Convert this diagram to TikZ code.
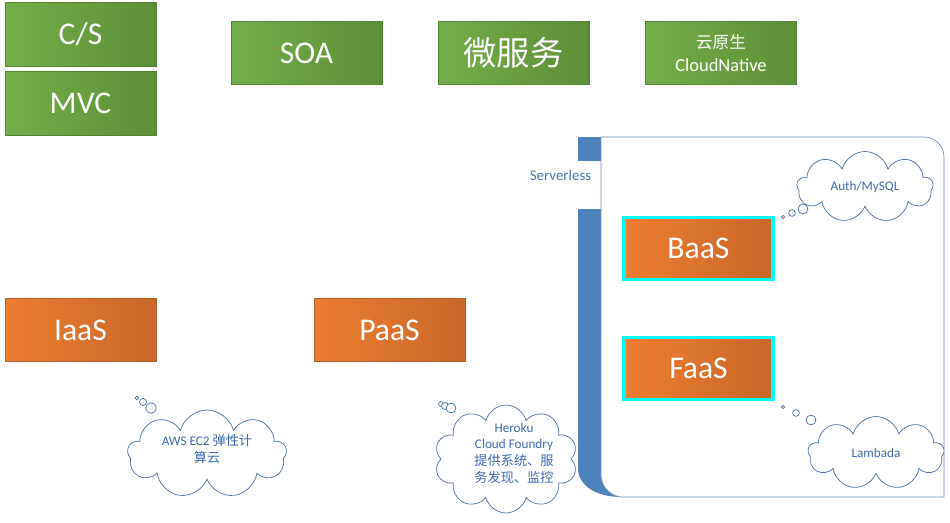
\documentclass[tikz,border=0pt]{standalone}
\usepackage{fontspec}
\setmainfont{Carlito}
\newfontfamily\cjk{Noto Sans CJK SC}
\usetikzlibrary{shapes.symbols}

\definecolor{greenL}{RGB}{114,175,73}
\definecolor{greenD}{RGB}{92,143,56}
\definecolor{greenB}{RGB}{84,130,53}
\definecolor{orangeL}{RGB}{237,125,49}
\definecolor{orangeD}{RGB}{200,104,42}
\definecolor{orangeB}{RGB}{180,92,36}
\definecolor{glow}{RGB}{0,255,255}
\definecolor{barblue}{RGB}{78,130,187}
\definecolor{frameline}{RGB}{110,145,190}
\definecolor{cloudline}{RGB}{70,112,160}
\definecolor{cloudtext}{RGB}{62,104,170}

\tikzset{
    greenbox/.style={draw=greenB, left color=greenL, right color=greenD,
        minimum width=3.02cm, minimum height=1.27cm, text=white,
        font=\fontsize{18}{20}\selectfont},
    orangebox/.style={draw=orangeB, left color=orangeL, right color=orangeD,
        minimum width=3.02cm, minimum height=1.27cm, text=white,
        font=\fontsize{18}{20}\selectfont},
    servbox/.style={orangebox, draw=glow, line width=1.8pt,
        minimum width=2.98cm, minimum height=1.24cm},
    thought/.style={cloud, cloud puffs=9, cloud ignores aspect, draw=cloudline,
        fill=white, thin, text=cloudtext, align=center, inner sep=0pt,
        font=\fontsize{7.5}{9.3}\selectfont},
    bubble/.style={draw=cloudline, fill=white, thin}
}

\begin{document}
\begin{tikzpicture}[x=0.02cm, y=-0.02cm]
    \useasboundingbox (0,0) rectangle (950,522);

    \node[greenbox] (cs) at (80.5,34.5) {C/S};
    \node[greenbox] (mvc) at (80.5,103.5) {MVC};
    \node[greenbox] (soa) at (306.5,53) {SOA};
    \node[greenbox] (micro) at (513.5,53) {\cjk\fontsize{19}{21}\selectfont 微服务};
    \node[greenbox, align=center, font=\fontsize{10.5}{13.5}\selectfont] (native) at (721,53) {{\cjk\fontsize{9.5}{13.5}\selectfont 云原生}\\CloudNative};

    \node[orangebox] (iaas) at (80.5,330) {IaaS};
    \node[orangebox] (paas) at (389.5,330) {PaaS};

    \node[thought, minimum width=3.18cm, minimum height=1.76cm] (aws) at (207,454) {};
    \node[text=cloudtext, align=center, font=\fontsize{7.5}{9.3}\selectfont] (awstext) at (207,449) {AWS EC2 {\cjk 弹性计}\\{\cjk 算云}};
    \draw[bubble] (137,398) circle (1.1pt);
    \draw[bubble] (143,402) circle (2pt);
    \draw[bubble] (151,408) circle (3pt);

    \node[thought, cloud puffs=10, minimum width=2.86cm, minimum height=2.16cm] (heroku) at (506,459) {};
    \node[text=cloudtext, align=center, font=\fontsize{7.5}{9.5}\selectfont] (herokutext) at (514,453) {Heroku\\Cloud Foundry\\{\cjk 提供系统、服}\\{\cjk 务发现、监控}};
    \draw[bubble] (441,404) circle (1.4pt);
    \draw[bubble] (445,406) circle (2pt);
    \draw[bubble] (451,408) circle (2.8pt);

    \fill[barblue] (578,137) rectangle (601,161);
    \fill[barblue] (578,209) -- (601,209) -- (601,475) .. controls (601,487) and (611,497) .. (623,497) -- (622,497) .. controls (595,497) and (578,485) .. (578,468) -- cycle;
    \draw[frameline, fill=white] (601,137) -- (924,137) .. controls (935,137) and (944,146) .. (944,157) -- (944,497) -- (623,497) .. controls (611,497) and (601,487) .. (601,475) -- cycle;
    \node[text=barblue!90!black, font=\fontsize{8.5}{10}\selectfont] (serverless) at (560.5,175) {Serverless};

    \node[servbox] (baas) at (698.5,248.5) {BaaS};
    \node[servbox] (faas) at (698.5,368.5) {FaaS};

    \node[thought, minimum width=2.72cm, minimum height=1.42cm] (auth) at (865,187) {Auth/MySQL};
    \draw[bubble] (783,217) circle (0.9pt);
    \draw[bubble] (792,213) circle (1.9pt);
    \draw[bubble] (803,209) circle (2.8pt);

    \node[thought, minimum width=2.72cm, minimum height=1.46cm] (lambda) at (876,453) {Lambada};
    \draw[bubble] (783,407) circle (0.9pt);
    \draw[bubble] (796,413) circle (1.9pt);
    \draw[bubble] (811,420) circle (2.8pt);
\end{tikzpicture}
\end{document}
